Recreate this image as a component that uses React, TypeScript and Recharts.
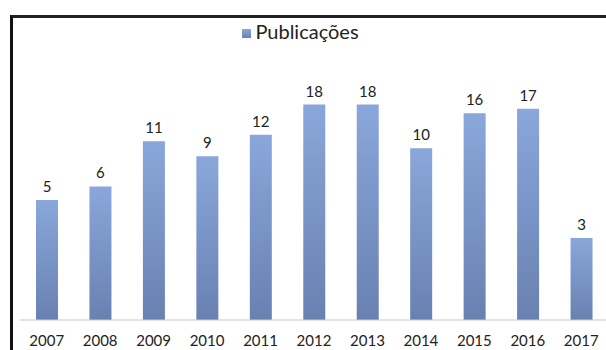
import { BarChart, Bar, XAxis, YAxis, Legend, LabelList } from "recharts";

type DataPoint = {
    year: string;
    publicacoes: number;
};

const years: string[] = ["2007", "2008", "2009", "2010", "2011", "2012", "2013", "2014", "2015", "2016", "2017"];
const publicacoes: number[] = [5, 6, 11, 9, 12, 18, 18, 10, 16, 17, 3];

const data: DataPoint[] = years.map((year, i) => ({ year, publicacoes: publicacoes[i] }));

const font = "Lato, 'Open Sans', sans-serif";

export default function App() {
    return (
        <div style={{ position: "fixed", top: 0, left: 0, width: 606, height: 350, overflow: "hidden", background: "#fff" }}>
            <div
                style={{
                    position: "absolute",
                    left: 10,
                    top: 15,
                    width: 620,
                    height: 400,
                    borderLeft: "3px solid #111",
                    borderTop: "3px solid #222",
                }}
            />
            <BarChart
                width={608}
                height={350}
                data={data}
                margin={{ top: 21, right: 0, bottom: 0, left: 20 }}
                style={{ position: "absolute", top: 0, left: 0, fontFamily: font }}
            >
                <defs>
                    <linearGradient id="barFill" x1="0" y1="0" x2="0" y2="1">
                        <stop offset="0%" stopColor="#8aa7db" />
                        <stop offset="100%" stopColor="#6881b1" />
                    </linearGradient>
                </defs>
                <XAxis
                    dataKey="year"
                    height={30}
                    axisLine={{ stroke: "#c8c8c8" }}
                    tickLine={false}
                    tickSize={13}
                    tick={{ fill: "#222", fontSize: 15, fontFamily: font }}
                    interval={0}
                />
                <YAxis hide scale="log" domain={[1, 40]} allowDataOverflow />
                <Legend
                    verticalAlign="top"
                    align="center"
                    iconType="square"
                    iconSize={9}
                    wrapperStyle={{ top: 19, left: 0, width: 611, fontFamily: font, fontSize: 20 }}
                    formatter={(value) => <span style={{ color: "#222" }}>{value}</span>}
                />
                <Bar
                    dataKey="publicacoes"
                    name="Publicações"
                    fill="url(#barFill)"
                    barSize={22}
                    isAnimationActive={false}
                >
                    <LabelList dataKey="publicacoes" position="top" offset={8} fill="#222" fontSize={15} fontFamily={font} />
                </Bar>
            </BarChart>
        </div>
    );
}
